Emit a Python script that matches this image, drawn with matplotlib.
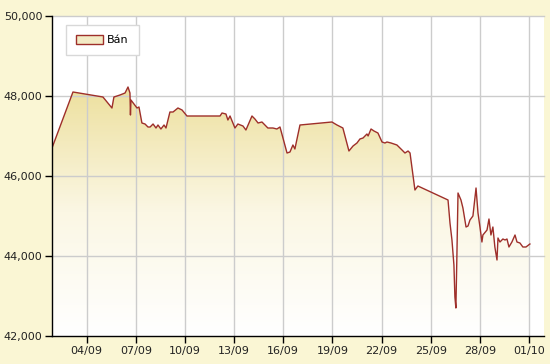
import numpy as np
import pandas as pd
import matplotlib
matplotlib.use("Agg")
import matplotlib.pyplot as plt
import matplotlib.dates as mdates
from matplotlib.colors import LinearSegmentedColormap
from matplotlib.patches import Rectangle

# ---- data: time (days after 01/09 00:00) and "Bán" price ----
base_date = "2012-09-01"
day_offsets = [0.88, 2.16, 3.99, 4.54, 4.66, 4.85, 5.03, 5.34, 5.52, 5.64, 5.67, 5.70,
               6.07, 6.19, 6.37, 6.56, 6.74, 6.87, 7.05, 7.23, 7.35, 7.53, 7.72, 7.84,
               8.08, 8.27, 8.57, 8.82, 9.12, 11.14, 11.26, 11.50, 11.62, 11.75, 12.05,
               12.23, 12.54, 12.72, 13.09, 13.27, 13.46, 13.70, 13.88, 14.06, 14.37,
               14.61, 14.80, 15.23, 15.41, 15.59, 15.71, 16.02, 17.97, 18.28, 18.64,
               19.01, 19.26, 19.50, 19.68, 19.87, 20.11, 20.18, 20.36, 20.54, 20.78,
               21.03, 21.21, 21.33, 21.58, 21.94, 22.25, 22.43, 22.62, 22.74, 23.04,
               23.22, 25.06, 25.18, 25.30, 25.42, 25.48, 25.54, 25.60, 25.67, 25.85,
               25.97, 26.16, 26.28, 26.40, 26.58, 26.77, 26.89, 27.01, 27.13, 27.19,
               27.44, 27.56, 27.68, 27.80, 27.92, 28.05, 28.11, 28.23, 28.41, 28.54,
               28.66, 28.78, 28.96, 29.15, 29.27, 29.45, 29.63, 29.82, 30.06]
ban = [46700, 48100, 47975, 47700, 47975, 48000, 48025, 48075, 48225, 48075, 47525, 47900,
       47700, 47725, 47325, 47300, 47225, 47225, 47300, 47200, 47275, 47175, 47275, 47200,
       47600, 47600, 47700, 47650, 47500, 47500, 47575, 47550, 47400, 47500, 47200,
       47300, 47250, 47150, 47500, 47425, 47325, 47350, 47275, 47200, 47200,
       47175, 47225, 46575, 46600, 46775, 46675, 47275, 47350, 47275, 47200,
       46625, 46750, 46825, 46925, 46950, 47050, 47000, 47175, 47125, 47075,
       46850, 46825, 46850, 46825, 46775, 46650, 46575, 46625, 46575, 45650,
       45750, 45400, 44825, 44400, 43775, 42975, 42700, 43975, 45575, 45400,
       45200, 44725, 44750, 44900, 45000, 45700, 45075, 44725, 44350, 44525,
       44650, 44925, 44525, 44725, 44225, 43900, 44450, 44350, 44425, 44400,
       44425, 44225, 44350, 44525, 44350, 44325, 44225, 44225, 44300]
series_label = "Bán"
tick_dates = ["2012-09-04", "2012-09-07", "2012-09-10", "2012-09-13", "2012-09-16",
              "2012-09-19", "2012-09-22", "2012-09-25", "2012-09-28", "2012-10-01"]
tick_labels = ["04/09", "07/09", "10/09", "13/09", "16/09", "19/09", "22/09",
               "25/09", "28/09", "01/10"]
y_ticks = [42000, 44000, 46000, 48000, 50000]
x_end_offset = 30.92

# ---- styling ----
fig_bg = "#FAF6D4"
line_color = "#9E2F2A"
fill_top = "#EDE09E"
grid_color = "#CCCCCC"

t = pd.to_datetime(base_date) + pd.to_timedelta(day_offsets, unit="D")
x = mdates.date2num(t.to_pydatetime())
y = np.array(ban, dtype=float)
x_end = mdates.date2num((pd.to_datetime(base_date) + pd.Timedelta(days=x_end_offset)).to_pydatetime())

fig = plt.figure(figsize=(5.5, 3.64), dpi=100, facecolor=fig_bg)
ax = fig.add_axes([52 / 550, 28 / 364, 492 / 550, 320 / 364])
ax.set_facecolor("white")

ymin, ymax = y_ticks[0], y_ticks[-1]
ax.set_xlim(x[0], x_end)
ax.set_ylim(ymin, ymax)

# gradient fill under the curve
cmap = LinearSegmentedColormap.from_list("g", ["#FFFFFF", "#FBF7E4", fill_top])
grad = np.linspace(0, 1, 256).reshape(-1, 1)
top_val = y.max()
im = ax.imshow(grad, extent=[x[0], x[-1], ymin, top_val], origin="lower",
               aspect="auto", cmap=cmap, zorder=1, interpolation="bicubic")
poly = ax.fill_between(x, y, ymin, facecolor="none", edgecolor="none", zorder=1)
clip_path = poly.get_paths()[0]
im.set_clip_path(clip_path, transform=ax.transData)

ax.plot(x, y, color=line_color, lw=1.0, zorder=3)

# grid
ax.set_axisbelow(False)
for xv in mdates.date2num(pd.to_datetime(tick_dates).to_pydatetime()):
    ax.axvline(xv, color=grid_color, lw=1.0, zorder=2)
for yv in y_ticks[1:]:
    ax.axhline(yv, color=grid_color, lw=1.0, zorder=2, clip_on=False)

ax.set_xticks(mdates.date2num(pd.to_datetime(tick_dates).to_pydatetime()))
ax.set_xticklabels(tick_labels)
ax.set_yticks(y_ticks)
ax.set_yticklabels([f"{v:,}" for v in y_ticks])

for s in ["top", "right"]:
    ax.spines[s].set_visible(False)
for s in ["left", "bottom"]:
    ax.spines[s].set_color("black")
    ax.spines[s].set_linewidth(1.0)
    ax.spines[s].set_zorder(4)

ax.tick_params(axis="both", direction="out", length=5, width=1, colors="black",
               labelsize=8, labelcolor="#222222", pad=2)

# legend
leg_handle = Rectangle((0, 0), 1, 1, facecolor="#F3EBC5", edgecolor="#9E2F2A", lw=1.0)
leg = ax.legend([leg_handle], [series_label], loc="upper left",
                bbox_to_anchor=(14 / 492, 1 - 9 / 320), borderaxespad=0,
                frameon=True, fancybox=False, fontsize=8, handlelength=2.4,
                handleheight=0.9, borderpad=0.9, handletextpad=0.4,
                edgecolor="#D8D8D8", facecolor="white", framealpha=1)
leg.get_frame().set_linewidth(1.0)
leg.set_zorder(5)

fig.savefig("out.png", dpi=100, facecolor=fig_bg)
